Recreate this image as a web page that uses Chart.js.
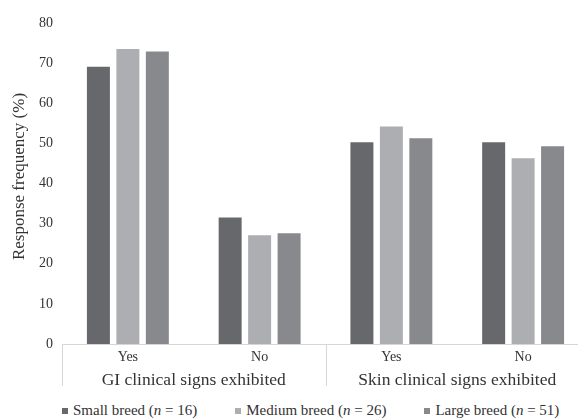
<!DOCTYPE html>
<html>
<head>
<meta charset="utf-8">
<script src="https://cdn.jsdelivr.net/npm/chart.js@4/dist/chart.umd.min.js"></script>
<style>
  html, body { margin: 0; padding: 0; background: #fff; overflow: hidden; width: 578px; height: 419px; }
  #wrap { position: absolute; left: 0; top: 0; width: 600px; height: 400px; }
  #legend { position: absolute; left: 62px; top: 402px; display: flex; gap: 38px; font-family: 'Liberation Serif', 'Times New Roman', serif; font-size: 15px; color: #333; white-space: nowrap; }
  #legend .item { display: flex; align-items: center; }
  #legend .sw { width: 6px; height: 6px; margin-right: 5px; display: inline-block; }
</style>
</head>
<body>
<div id="wrap"><canvas id="c" width="600" height="400"></canvas></div>
<div id="legend"></div>
<script>
const categories = ['Yes', 'No', 'Yes', 'No'];
const groups = ['GI clinical signs exhibited', 'Skin clinical signs exhibited'];
const breeds = ['Small breed', 'Medium breed', 'Large breed'];
const sampleSizes = [16, 26, 51];
const smallBreed = [69.1, 31.5, 50.3, 50.3];
const mediumBreed = [73.5, 27.1, 54.2, 46.3];
const largeBreed = [72.9, 27.6, 51.3, 49.3];
const yTitle = 'Response frequency (%)';
const yMax = 80;
const yStep = 10;

const colors = ['#67686c', '#adaeb2', '#88898d'];
const seriesValues = [smallBreed, mediumBreed, largeBreed];
const FONT = "'Liberation Serif', 'Times New Roman', serif";

function build() {
  const datasets = breeds.map((b, i) => ({
    label: b + ' (n = ' + sampleSizes[i] + ')',
    data: seriesValues[i],
    backgroundColor: colors[i],
    borderWidth: 0,
    categoryPercentage: 0.671,
    barPercentage: 0.78,
    xAxisID: 'x'
  }));

  const decorPlugin = {
    id: 'decor',
    afterDraw(chart) {
      const ctx = chart.ctx;
      const a = chart.chartArea;
      const mid = (a.left + a.right) / 2;
      ctx.save();
      ctx.strokeStyle = '#d6d6d6';
      ctx.lineWidth = 1;
      [a.left, mid, a.right].forEach(x => {
        const xx = Math.round(x) + 0.5;
        ctx.beginPath();
        ctx.moveTo(xx, a.bottom);
        ctx.lineTo(xx, a.bottom + 42);
        ctx.stroke();
      });
      // y-axis title
      ctx.fillStyle = '#333';
      ctx.font = '17px ' + FONT;
      ctx.textAlign = 'center';
      ctx.textBaseline = 'middle';
      ctx.translate(20, (a.top + a.bottom) / 2 - 7);
      ctx.rotate(-Math.PI / 2);
      ctx.fillText(yTitle, 0, 0);
      ctx.restore();
    }
  };

  const chart = new Chart(document.getElementById('c'), {
    type: 'bar',
    data: { labels: categories, datasets: datasets },
    plugins: [decorPlugin],
    options: {
      responsive: false,
      animation: false,
      layout: { padding: { top: 23, right: 11, left: 0, bottom: 4 } },
      plugins: { legend: { display: false }, tooltip: { enabled: false } },
      scales: {
        y: {
          min: 0, max: yMax,
          ticks: { stepSize: yStep, color: '#333', font: { family: FONT, size: 14 }, padding: 9 },
          grid: { display: false, drawTicks: false },
          border: { display: false },
          title: { display: false },
          afterFit(s) { s.width = 62; }
        },
        x: {
          position: 'bottom',
          ticks: { color: '#333', font: { family: FONT, size: 14 }, padding: 5 },
          grid: { display: false, drawTicks: false },
          border: { display: true, color: '#d6d6d6', width: 1 },
          afterFit(s) { s.height = 24; }
        },
        x2: {
          type: 'category',
          position: 'bottom',
          labels: groups,
          ticks: { color: '#333', font: { family: FONT, size: 17.5 }, padding: 2 },
          grid: { display: false, drawTicks: false },
          border: { display: false },
          afterFit(s) { s.height = 28; }
        }
      }
    }
  });

  const legendEl = document.getElementById('legend');
  chart.data.datasets.forEach((ds, i) => {
    const item = document.createElement('span');
    item.className = 'item';
    const sw = document.createElement('span');
    sw.className = 'sw';
    sw.style.background = ds.backgroundColor;
    item.appendChild(sw);
    const txt = document.createElement('span');
    txt.innerHTML = breeds[i] + ' (<i>n</i> = ' + sampleSizes[i] + ')';
    item.appendChild(txt);
    legendEl.appendChild(item);
  });
}

if (document.fonts && document.fonts.load) {
  Promise.all([
    document.fonts.load("14px 'Liberation Serif'"),
    document.fonts.load("italic 14px 'Liberation Serif'")
  ]).then(build, build);
} else {
  build();
}
</script>
</body>
</html>
